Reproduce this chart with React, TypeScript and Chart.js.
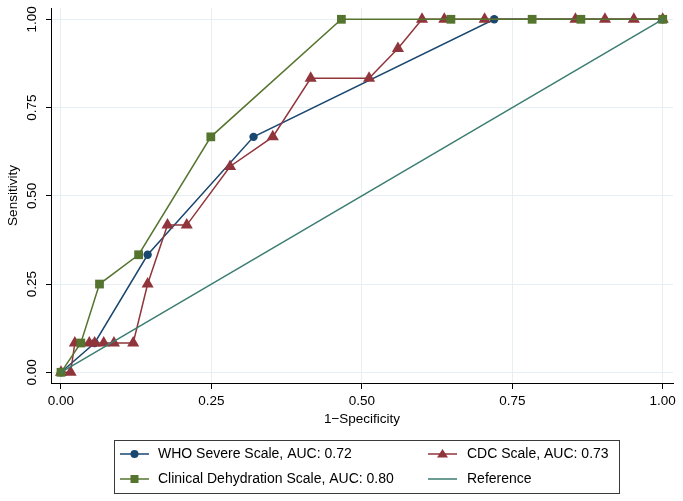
import React, { useEffect, useRef } from 'react';
import { Chart, registerables } from 'chart.js';

Chart.register(...registerables);

// ---- data ----
const X_TICKS = [0, 0.25, 0.5, 0.75, 1];
const Y_TICKS = [0, 0.25, 0.5, 0.75, 1];

const WHO_X = [0, 0.056, 0.144, 0.32, 0.72, 1];
const WHO_Y = [0, 0.083, 0.333, 0.667, 1, 1];

const CDC_X = [0, 0.016, 0.023, 0.047, 0.056, 0.071, 0.088, 0.12, 0.144, 0.177, 0.209, 0.281, 0.352, 0.415, 0.512, 0.56, 0.6, 0.637, 0.704, 0.855, 0.904, 0.952, 1];
const CDC_Y = [0, 0, 0.083, 0.083, 0.083, 0.083, 0.083, 0.083, 0.25, 0.417, 0.417, 0.583, 0.667, 0.833, 0.833, 0.917, 1, 1, 1, 1, 1, 1, 1];

const CDS_X = [0, 0.033, 0.064, 0.129, 0.249, 0.466, 0.648, 0.783, 0.864, 1];
const CDS_Y = [0, 0.083, 0.25, 0.333, 0.667, 1, 1, 1, 1, 1];

const REF_X = [0, 1];
const REF_Y = [0, 1];

const LABELS = [
  'WHO Severe Scale, AUC: 0.72',
  'CDC Scale, AUC: 0.73',
  'Clinical Dehydration Scale, AUC: 0.80',
  'Reference',
];
const COLORS = ['#1a476f', '#90353b', '#55752f', '#3b7d71'];

const X_TITLE = '1\u2212Specificity';
const Y_TITLE = 'Sensitivity';

const FONT_FAMILY = '"Liberation Sans", Arial, Helvetica, sans-serif';

const toPoints = (xs: number[], ys: number[]) => xs.map((x, i) => ({ x, y: ys[i] }));

const boxLegend = {
  id: 'boxLegend',
  afterDraw(chart: any) {
    const ctx = chart.ctx as CanvasRenderingContext2D;
    ctx.save();
    const bx = 114, by = 440, bw = 505, bh = 53;
    ctx.strokeStyle = '#3a3a3a';
    ctx.lineWidth = 1;
    ctx.strokeRect(bx + 0.5, by + 0.5, bw, bh);
    const cols = [
      { x1: 120, x2: 149, tx: 158 },
      { x1: 428, x2: 457, tx: 467 },
    ];
    const rows = [454, 479];
    chart.data.datasets.forEach((ds: any, i: number) => {
      const c = cols[i % 2];
      const y = rows[Math.floor(i / 2)];
      ctx.strokeStyle = ds.borderColor;
      ctx.fillStyle = ds.borderColor;
      ctx.lineWidth = 1.5;
      ctx.beginPath();
      ctx.moveTo(c.x1, y);
      ctx.lineTo(c.x2, y);
      ctx.stroke();
      const cx = (c.x1 + c.x2) / 2;
      if (ds.pointStyle === 'circle' && ds.pointRadius > 0) {
        ctx.beginPath();
        ctx.arc(cx, y, 4, 0, Math.PI * 2);
        ctx.fill();
      } else if (ds.pointStyle === 'rect') {
        ctx.fillRect(cx - 4, y - 4, 8, 8);
      } else if (ds.pointStyle === 'triangle') {
        ctx.beginPath();
        ctx.moveTo(cx, y - 5);
        ctx.lineTo(cx + 5.5, y + 3.5);
        ctx.lineTo(cx - 5.5, y + 3.5);
        ctx.closePath();
        ctx.fill();
      }
      ctx.fillStyle = '#000';
      ctx.font = `14px ${FONT_FAMILY}`;
      ctx.textAlign = 'left';
      ctx.textBaseline = 'middle';
      ctx.fillText(ds.label, c.tx, y + 0.5);
    });
    ctx.restore();
  },
};

export default function App() {
  const ref = useRef<HTMLCanvasElement | null>(null);

  useEffect(() => {
    if (!ref.current) return;
    const tickFont = { family: FONT_FAMILY, size: 13.5 };
    const chart = new Chart(ref.current, {
      type: 'scatter',
      data: {
        datasets: [
          {
            label: LABELS[0],
            data: toPoints(WHO_X, WHO_Y),
            showLine: true,
            borderColor: COLORS[0],
            backgroundColor: COLORS[0],
            borderWidth: 1.5,
            pointStyle: 'circle',
            pointRadius: 4.2,
            pointBorderWidth: 0,
            order: 4,
          },
          {
            label: LABELS[1],
            data: toPoints(CDC_X, CDC_Y),
            showLine: true,
            borderColor: COLORS[1],
            backgroundColor: COLORS[1],
            borderWidth: 1.5,
            pointStyle: 'triangle',
            pointRadius: 7,
            pointBorderWidth: 0,
            order: 3,
          },
          {
            label: LABELS[2],
            data: toPoints(CDS_X, CDS_Y),
            showLine: true,
            borderColor: COLORS[2],
            backgroundColor: COLORS[2],
            borderWidth: 1.5,
            pointStyle: 'rect',
            pointRadius: 6.2,
            pointBorderWidth: 0,
            order: 2,
          },
          {
            label: LABELS[3],
            data: toPoints(REF_X, REF_Y),
            showLine: true,
            borderColor: COLORS[3],
            backgroundColor: COLORS[3],
            borderWidth: 1.5,
            pointStyle: 'circle',
            pointRadius: 0,
            order: 1,
          },
        ],
      },
      options: {
        animation: false,
        responsive: false,
        events: [],
        layout: { padding: { left: 0, right: 10, top: 8, bottom: 71 } },
        plugins: {
          legend: { display: false },
          tooltip: { enabled: false },
        },
        elements: { line: { tension: 0 } },
        scales: {
          x: {
            type: 'linear',
            min: -0.0166,
            max: 1.0171,
            afterBuildTicks: (s: any) => {
              s.ticks = X_TICKS.map((v) => ({ value: v }));
            },
            afterFit: (s: any) => {
              s.height = 47;
              s.paddingLeft = 0;
              s.paddingRight = 0;
            },
            ticks: {
              autoSkip: false,
              maxRotation: 0,
              minRotation: 0,
              padding: 4,
              color: '#000',
              font: tickFont,
              callback: (v: any) => Number(v).toFixed(2),
            },
            grid: { color: '#e8eff2', tickColor: '#000', tickLength: 6, lineWidth: 1 },
            border: { color: '#000', width: 1 },
            title: {
              display: true,
              text: X_TITLE,
              color: '#000',
              font: { family: FONT_FAMILY, size: 13.5 },
              padding: { top: 0, bottom: 3 },
            },
          },
          y: {
            type: 'linear',
            min: -0.0303,
            max: 1.032,
            afterBuildTicks: (s: any) => {
              s.ticks = Y_TICKS.map((v) => ({ value: v }));
            },
            afterFit: (s: any) => {
              s.width = 51;
              s.paddingTop = 0;
              s.paddingBottom = 0;
            },
            ticks: {
              autoSkip: false,
              minRotation: 90,
              maxRotation: 90,
              crossAlign: 'center',
              padding: 1,
              color: '#000',
              font: tickFont,
              callback: (v: any) => Number(v).toFixed(2),
            },
            grid: { color: '#e8eff2', tickColor: '#000', tickLength: 5, lineWidth: 1 },
            border: { color: '#000', width: 1 },
            title: {
              display: true,
              text: Y_TITLE,
              color: '#000',
              font: { family: FONT_FAMILY, size: 13.5 },
              padding: { top: 5, bottom: 0 },
            },
          },
        },
      } as any,
      plugins: [boxLegend],
    });
    return () => chart.destroy();
  }, []);

  return (
    <canvas
      ref={ref}
      width={683}
      height={501}
      style={{ position: 'absolute', left: 0, top: 0, width: 683, height: 501, display: 'block' }}
    />
  );
}
